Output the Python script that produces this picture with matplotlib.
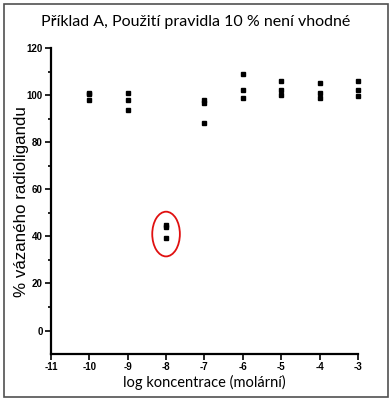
import matplotlib.pyplot as plt
from matplotlib.patches import Ellipse, Rectangle

# log koncentrace a naměřené hodnoty (tři opakování)
log_conc = [-10, -9, -8, -7, -6, -5, -4, -3]
rep1 = [101.1, 101.0, 45.0, 98.1, 108.8, 105.9, 105.2, 105.9]
rep2 = [100.3, 98.0, 43.8, 96.7, 102.0, 102.0, 101.1, 102.2]
rep3 = [98.0, 93.9, 39.5, 88.0, 98.9, 99.9, 98.9, 99.6]
xticks = list(range(-11, -2))
yticks = [0, 20, 40, 60, 80, 100, 120]

fig = plt.figure(figsize=(3.92, 4.01), dpi=100)
ax = fig.add_axes([0.130, 0.117, 0.783, 0.763])

for rep in (rep1, rep2, rep3):
    ax.plot(log_conc, rep, 's', color='black', markersize=3.4, linestyle='none', clip_on=False)

# zvýraznění odlehlého bodu
ax.add_patch(Ellipse((-8, 41), 0.72, 19, fill=False, edgecolor='#e01010', linewidth=1.3))

ax.set_xlim(-11, -3)
ax.set_ylim(-10, 120)
ax.set_xticks(xticks)
ax.set_xticklabels([str(t) for t in xticks])
ax.set_yticks(yticks)
ax.set_yticks(range(10, 120, 20), minor=True)
ax.spines['top'].set_visible(False)
ax.spines['right'].set_visible(False)
ax.spines['left'].set_linewidth(1.6)
ax.spines['bottom'].set_linewidth(1.6)
ax.tick_params(axis='both', which='major', length=4, width=1.2, labelsize=7, pad=2)
ax.tick_params(axis='y', which='minor', length=2.5, width=1.2)
for lbl in ax.get_xticklabels() + ax.get_yticklabels():
    lbl.set_fontweight('bold')
    lbl.set_family('Liberation Sans')

ax.set_xlabel('log koncentrace (molární)', family='Lato', fontsize=10.5, labelpad=2)
ax.set_ylabel('% vázaného radioligandu', family='Liberation Sans', fontsize=12.2)
ax.yaxis.set_label_coords(-0.072, 0.5)
fig.text(0.5, 0.945, 'Příklad A, Použití pravidla 10 % není vhodné', ha='center', va='center',
         family='Lato', fontsize=11.5)

# rámeček kolem obrázku
fig.patches.append(Rectangle((0.011, 0.011), 0.978, 0.978, transform=fig.transFigure,
                             fill=False, edgecolor='#505050', linewidth=1.2))

fig.savefig('out.png', dpi=100)
